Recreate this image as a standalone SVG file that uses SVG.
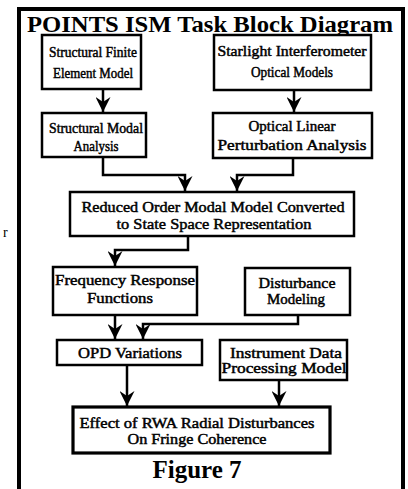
<svg xmlns="http://www.w3.org/2000/svg" width="408" height="489" viewBox="0 0 408 489">
<style>
.frame{fill:none;stroke:#000;stroke-width:4}
.box{fill:#fff;stroke:#000;stroke-width:2.5}
.thick{stroke-width:3.2}
.t{font-family:"Liberation Serif","Times New Roman",serif;font-size:14px;font-weight:normal;fill:#000;stroke:#000;stroke-width:0.45;text-anchor:middle}
.title{font-family:"Liberation Serif","Times New Roman",serif;font-weight:bold;fill:#000}
.c{fill:none;stroke:#000;stroke-width:2.5}
</style>
<defs>
<marker id="ah" markerUnits="userSpaceOnUse" markerWidth="15" markerHeight="15" refX="12" refY="6" orient="auto" viewBox="0 0 12 12">
<path d="M0,0 L12,6 L0,12 L4,6 Z" fill="#000"/>
</marker>
</defs>
<rect width="408" height="489" fill="#fff"/>
<rect class="frame" x="19" y="9" width="384" height="495"/>
<text class="title" x="27" y="32" font-size="23" textLength="366" lengthAdjust="spacingAndGlyphs">POINTS ISM Task Block Diagram</text>
<text x="3" y="237" font-family="Liberation Serif, serif" font-size="14" fill="#000">r</text>

<g id="connectors">
<path class="c" d="M103,89 V112" marker-end="url(#ah)"/>
<path class="c" d="M294,90 V112" marker-end="url(#ah)"/>
<path class="c" d="M103,157 V175 H185 V191" marker-end="url(#ah)"/>
<path class="c" d="M293,158 V175 H237 V191" marker-end="url(#ah)"/>
<path class="c" d="M188,236 V250 H115 V266" marker-end="url(#ah)"/>
<path class="c" d="M115,315 V339" marker-end="url(#ah)"/>
<path class="c" d="M298,315 V324 H143 V339" marker-end="url(#ah)"/>
<path class="c" d="M127,365 V406" marker-end="url(#ah)"/>
<path class="c" d="M279,380 V406" marker-end="url(#ah)"/>
</g>

<g id="n1">
<rect class="box" x="42" y="35" width="99" height="54"/>
<text class="t" x="93" y="57" textLength="88" lengthAdjust="spacingAndGlyphs">Structural Finite</text>
<text class="t" x="93" y="78" textLength="80" lengthAdjust="spacingAndGlyphs">Element Model</text>
</g>
<g id="n2">
<rect class="box" x="214" y="35" width="157" height="55"/>
<text class="t" x="292" y="56" textLength="149" lengthAdjust="spacingAndGlyphs">Starlight Interferometer</text>
<text class="t" x="292" y="77" textLength="82" lengthAdjust="spacingAndGlyphs">Optical Models</text>
</g>
<g id="n3">
<rect class="box" x="42" y="113" width="104" height="44"/>
<text class="t" x="96" y="133" textLength="94" lengthAdjust="spacingAndGlyphs">Structural Modal</text>
<text class="t" x="96" y="151" textLength="45" lengthAdjust="spacingAndGlyphs">Analysis</text>
</g>
<g id="n4">
<rect class="box" x="213" y="113" width="159" height="45"/>
<text class="t" x="292" y="131" textLength="87" lengthAdjust="spacingAndGlyphs">Optical Linear</text>
<text class="t" x="292" y="150" textLength="149" lengthAdjust="spacingAndGlyphs">Perturbation Analysis</text>
</g>
<g id="n5">
<rect class="box" x="70" y="192" width="284" height="44"/>
<text class="t" x="213" y="212" textLength="263" lengthAdjust="spacingAndGlyphs">Reduced Order Modal Model Converted</text>
<text class="t" x="214" y="229" textLength="195" lengthAdjust="spacingAndGlyphs">to State Space Representation</text>
</g>
<g id="n6">
<rect class="box" x="53" y="267" width="144" height="48"/>
<text class="t" x="125" y="285" textLength="140" lengthAdjust="spacingAndGlyphs">Frequency Response</text>
<text class="t" x="120" y="303" textLength="66" lengthAdjust="spacingAndGlyphs">Functions</text>
</g>
<g id="n7">
<rect class="box" x="245" y="268" width="105" height="47"/>
<text class="t" x="297" y="288" textLength="77" lengthAdjust="spacingAndGlyphs">Disturbance</text>
<text class="t" x="296" y="304" textLength="58" lengthAdjust="spacingAndGlyphs">Modeling</text>
</g>
<g id="n8">
<rect class="box" x="57" y="340" width="145" height="25"/>
<text class="t" x="130" y="358" textLength="104" lengthAdjust="spacingAndGlyphs">OPD Variations</text>
</g>
<g id="n9">
<rect class="box" x="220" y="340" width="127" height="40"/>
<text class="t" x="286" y="358" textLength="112" lengthAdjust="spacingAndGlyphs">Instrument Data</text>
<text class="t" x="284" y="373" textLength="125" lengthAdjust="spacingAndGlyphs">Processing Model</text>
</g>
<g id="n10">
<rect class="box thick" x="73" y="407" width="257" height="46"/>
<text class="t" x="197" y="428" textLength="235" lengthAdjust="spacingAndGlyphs">Effect of RWA Radial Disturbances</text>
<text class="t" x="197" y="444" textLength="139" lengthAdjust="spacingAndGlyphs">On Fringe Coherence</text>
</g>
<text class="title" x="197" y="478" font-size="25" text-anchor="middle">Figure 7</text>
</svg>
